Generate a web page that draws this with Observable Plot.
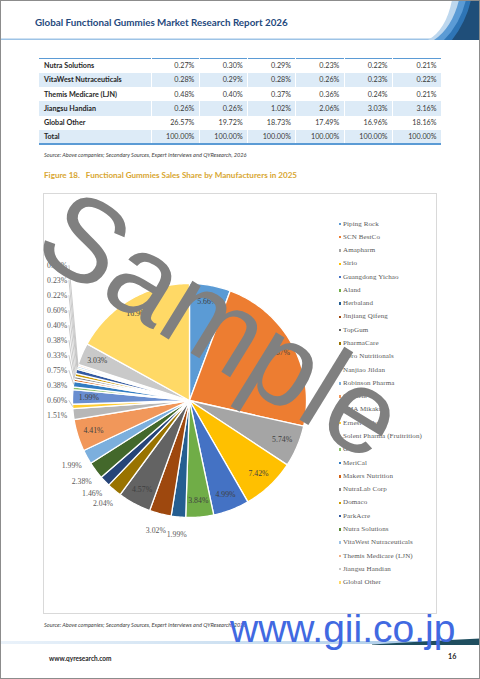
<!DOCTYPE html>
<html><head><meta charset="utf-8">
<script src="https://cdn.jsdelivr.net/npm/d3@7"></script>
<script src="https://cdn.jsdelivr.net/npm/@observablehq/plot@0.6"></script>
<style>
html,body{margin:0;padding:0;background:#fff;}
#page{position:relative;width:480px;height:679px;overflow:hidden;background:#fff;font-family:Lato,"Open Sans",sans-serif;}
.abs{position:absolute;white-space:nowrap;line-height:1;}
#border{position:absolute;left:0;top:0;width:478px;height:677px;border:1px solid #8c8c8c;z-index:30;pointer-events:none;}
#title{left:35px;top:18px;font-size:9.8px;font-weight:700;color:#1f497d;}
#tbl{position:absolute;left:39px;top:58px;width:402px;border-collapse:collapse;table-layout:fixed;border-top:1.5px solid #5b9bd5;border-bottom:2px solid #5b9bd5;font-size:7.2px;color:#262626;font-family:Lato,sans-serif;}
#tbl td{height:14.3px;padding:0 4.5px;border-left:1px solid #fff;white-space:nowrap;line-height:1;box-sizing:border-box;}
#tbl td.n{font-weight:700;padding-left:5px;text-align:left;border-left:none;}
#tbl td.v{text-align:right;color:#3a3a3a;}
#tbl tr.alt td{background:#ddebf7;}
.src{font-size:5.6px;font-style:italic;color:#404040;}
#figt{left:44px;top:171px;font-size:8.1px;font-weight:700;color:#d8a630;white-space:pre;}
#chartbox{position:absolute;left:43px;top:193px;width:392px;height:419px;border:1px solid #d9d9d9;}
.lg{position:absolute;left:343px;font-family:"Liberation Serif",serif;font-size:7px;color:#595959;white-space:nowrap;line-height:1;z-index:6;letter-spacing:0.1px;}
.sw{position:absolute;left:-4.5px;top:2.2px;width:2.5px;height:2.5px;}
#plotwrap{position:absolute;left:0;top:0;z-index:5;}
#wmbox{position:absolute;left:0;top:0;width:480px;height:679px;overflow:hidden;z-index:10;pointer-events:none;}
#wm{position:absolute;left:222px;top:324px;width:max-content;transform:translate(-50%,-50%) rotate(31.6deg);font-family:"Liberation Sans",Arial,sans-serif;font-size:118px;color:#808080;white-space:nowrap;line-height:1;}
#gii{position:absolute;left:230px;top:609px;font-family:"Liberation Sans",Arial,sans-serif;font-size:39px;color:#4169e1;z-index:11;white-space:nowrap;line-height:1;}
#foot{left:49px;top:656px;font-size:6.5px;font-weight:700;color:#262626;}
#pg{left:448px;top:652.5px;font-size:7.2px;font-weight:700;color:#262626;}
</style></head><body>
<div id="page">
  <svg class="abs" style="left:0;top:0;z-index:1" width="480" height="679">
    <defs>
      <linearGradient id="fg" x1="0" x2="1" y1="0" y2="0">
        <stop offset="0" stop-color="#eaf2fa"/><stop offset="0.6" stop-color="#c6dcef"/><stop offset="1" stop-color="#9dc3e6"/>
      </linearGradient>
    </defs>
    <rect x="0" y="38.5" width="480" height="1.5" fill="#9dc3e6"/>
    <path d="M428,40 Q446,30 452,0 L480,0 L480,40 Z" fill="#bdd7ee"/>
    <path d="M434,40 Q452,28 459,0 L480,0 L480,40 Z" fill="#5b9bd5"/>
    <path d="M444,40 Q460,24 466,0 L480,0 L480,40 Z" fill="#2e75b6"/>
    <path d="M452,40 Q466,22 471,0 L480,0 L480,40 Z" fill="#1f4e79"/>
    <rect x="0" y="641" width="480" height="3" fill="url(#fg)"/>
    <path d="M372,644.5 Q430,641 480,638.5 L480,645 L372,645 Z" fill="#1f4e5f"/>
  </svg>
  <div id="title" class="abs">Global Functional Gummies Market Research Report 2026</div>
  <table id="tbl"></table>
  <div class="abs src" style="left:44px;top:152px">Source: Above companies; Secondary Sources, Expert Interviews and QYResearch, 2026</div>
  <div id="figt" class="abs">Figure 18.   Functional Gummies Sales Share by Manufacturers in 2025</div>
  <div id="chartbox"></div>
  <div id="plotwrap"></div>
  <div id="legend"></div>
  <div class="abs src" style="left:44px;top:622px">Source: Above companies; Secondary Sources, Expert Interviews and QYResearch, 2026</div>
  <div id="foot" class="abs">www.qyresearch.com</div>
  <div id="pg" class="abs">16</div>
  <div id="wmbox"><div id="wm">Sample</div></div>
  <div id="gii">www.gii.co.jp</div>
  <div id="border"></div>
</div>
<script>
// ---- Table data ----
const tableCompanies = ["Nutra Solutions","VitaWest Nutraceuticals","Themis Medicare (LJN)","Jiangsu Handian","Global Other","Total"];
const tableCol1 = [0.27, 0.28, 0.48, 0.26, 26.57, 100.00];
const tableCol2 = [0.30, 0.29, 0.40, 0.26, 19.72, 100.00];
const tableCol3 = [0.29, 0.28, 0.37, 1.02, 18.73, 100.00];
const tableCol4 = [0.23, 0.26, 0.36, 2.06, 17.49, 100.00];
const tableCol5 = [0.22, 0.23, 0.24, 3.03, 16.96, 100.00];
const tableCol6 = [0.21, 0.22, 0.21, 3.16, 18.16, 100.00];

// ---- Pie data (2025 share, %) ----
const manufacturers = ["Piping Rock","SCN BestCo","Amapharm","Sirio","Guangdong Yichao","Aland","Herbaland","Jinjiang Qifeng","TopGum","PharmaCare","Hero Nutritionals","Nanjiao Jildan","Robinson Pharma","Catalent","UHA Mikakuto","Ernest Jackson","Solent Pharma (Fruitrition)","Gosnell","MeriCal","Makers Nutrition","NutraLab Corp","Domaco","ParkAcre","Nutra Solutions","VitaWest Nutraceuticals","Themis Medicare (LJN)","Jiangsu Handian","Global Other"];
const shares2025 = [5.66,22.87,5.74,7.42,4.99,3.84,1.99,3.02,4.57,2.04,1.46,2.38,1.99,4.41,1.51,0.60,1.99,0.38,0.75,0.33,0.38,0.40,0.60,0.22,0.23,0.24,3.03,16.96];
const sliceColors = ["#5B9BD5","#ED7D31","#A5A5A5","#FFC000","#4472C4","#70AD47","#255E91","#9E480E","#636363","#997300","#264478","#43682B","#7CAFDD","#F1975A","#B7B7B7","#FFCD33","#698ED0","#8CC168","#327DC2","#D26012","#848484","#CC9A00","#335AA1","#5A8A39","#9DC3E6","#F4B183","#C9C9C9","#FFD966"];

// ---- Table ----
const cols = [tableCol1,tableCol2,tableCol3,tableCol4,tableCol5,tableCol6];
const tbl = document.getElementById("tbl");
let html = '<colgroup><col style="width:112px">' + cols.map(()=>'<col style="width:48.33px">').join("") + '</colgroup>';
tableCompanies.forEach((c,i)=>{
  html += `<tr class="${i%2===1?'alt':''}"><td class="n">${c}</td>` + cols.map(col=>`<td class="v">${col[i].toFixed(2)}%</td>`).join("") + '</tr>';
});
tbl.innerHTML = html;

// ---- Pie geometry ----
const cx = 189, cy = 400, R = 117;
const rows = manufacturers.map((name,i)=>({name, share: shares2025[i]}));
const arcs = d3.pie().sort(null).value(d=>d.share)(rows);
const slicePts = [];
for (const a of arcs) {
  const n = Math.max(2, Math.ceil((a.endAngle-a.startAngle)/(Math.PI/180)));
  slicePts.push({name:a.data.name, x:0, y:0});
  for (let k=0;k<=n;k++){
    const t = a.startAngle + (a.endAngle-a.startAngle)*k/n;
    slicePts.push({name:a.data.name, x:Math.sin(t), y:Math.cos(t)});
  }
}
const insideNames = new Set(["Piping Rock","SCN BestCo","Amapharm","Sirio","Guangdong Yichao","Aland","TopGum","Catalent","Solent Pharma (Fruitrition)","Jiangsu Handian","Global Other"]);
const fmt = v => v.toFixed(2) + "%";
const inLabels = [], outMid = [], outCol = [], leaders = [];
for (const a of arcs) {
  const m = (a.startAngle + a.endAngle)/2, deg = m*180/Math.PI;
  const base = {name:a.data.name, text:fmt(a.data.share), m};
  if (insideNames.has(a.data.name)) inLabels.push({...base, x:0.86*Math.sin(m), y:0.86*Math.cos(m)});
  else if (deg > 250 && deg < 300) outCol.push(base);
  else outMid.push({...base, x:1.15*Math.sin(m), y:1.15*Math.cos(m)});
}
outCol.sort((p,q)=>p.m-q.m);
let prev = Infinity;
for (const d of outCol) {
  const nat = cy - R*1.1*Math.cos(d.m);
  const ypx = Math.min(nat, prev - 15);
  prev = ypx;
  d.x = -1.045; d.y = (cy - ypx)/R;
  if (nat - ypx > 3) {
    leaders.push({name:d.name, x:-1.03, y:d.y});
    leaders.push({name:d.name, x:Math.sin(d.m), y:Math.cos(d.m)});
  }
}

const chart = Plot.plot({
  width: 480, height: 679, margin: 0,
  x: {domain:[-1,1], range:[cx-R, cx+R], axis:null},
  y: {domain:[-1,1], range:[cy+R, cy-R], axis:null},
  color: {domain: manufacturers, range: sliceColors},
  style: {background:"transparent", overflow:"visible"},
  marks: [
    Plot.line(slicePts, {x:"x", y:"y", z:"name", fill:"name", stroke:"white", strokeWidth:1.3, curve:"linear-closed"}),
    Plot.line(leaders, {x:"x", y:"y", z:"name", stroke:"#a6a6a6", strokeWidth:0.6}),
    Plot.text(inLabels, {x:"x", y:"y", text:"text", fill:"#404040", fontSize:7.8, fontFamily:"Liberation Serif"}),
    Plot.text(outMid, {x:"x", y:"y", text:"text", fill:"#595959", fontSize:7.8, fontFamily:"Liberation Serif"}),
    Plot.text(outCol, {x:"x", y:"y", text:"text", fill:"#595959", fontSize:7.8, fontFamily:"Liberation Serif", textAnchor:"end"})
  ]
});
document.getElementById("plotwrap").appendChild(chart);

// ---- Legend ----
const lg = document.getElementById("legend");
manufacturers.forEach((name,i)=>{
  const el = document.createElement("div");
  el.className = "lg";
  el.style.top = (220.5 + i*13.28) + "px";
  el.innerHTML = `<span class="sw" style="background:${sliceColors[i]}"></span>${name}`;
  lg.appendChild(el);
});
</script>
</body></html>
